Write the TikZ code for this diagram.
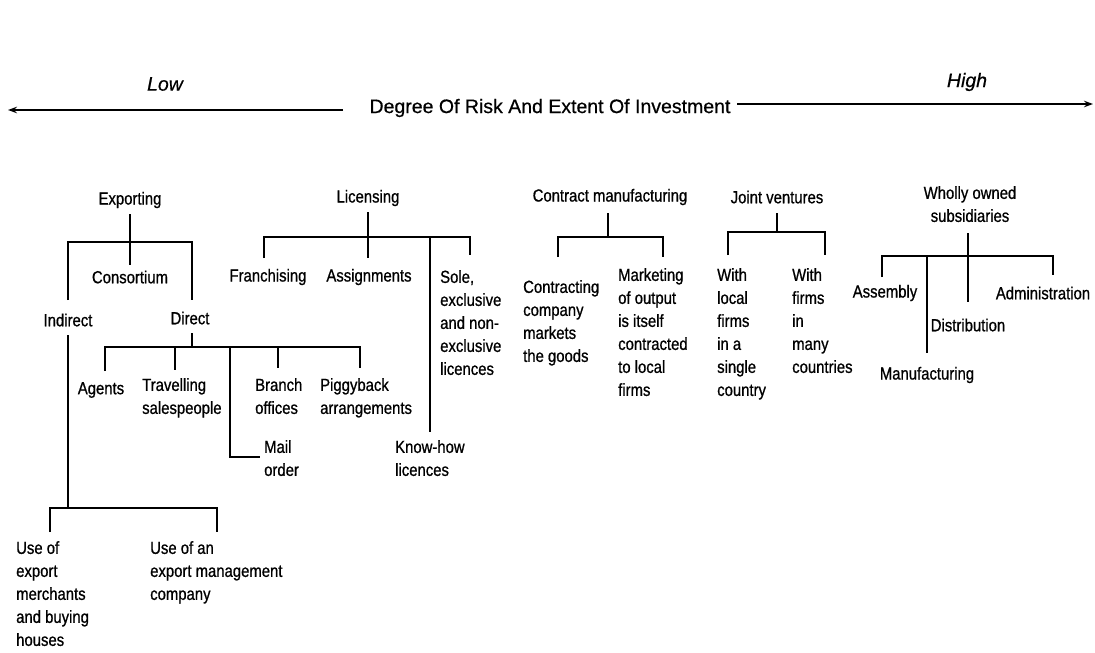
\documentclass[tikz,border=0pt]{standalone}
\usepackage{fontspec}
\setmainfont{Liberation Sans}[FakeBold=0.6]
\newfontfamily\condf{Liberation Sans}[FakeStretch=0.85,FakeBold=0.8]
\usetikzlibrary{arrows.meta}
\begin{document}
\begin{tikzpicture}[x=1pt,y=-1pt,
 lbl/.style={inner sep=0pt, font=\condf\fontsize{17.5}{23}\selectfont},
 ml/.style={lbl, align=left, anchor=north west},
 mc/.style={lbl, align=center, anchor=north},
 hdr/.style={inner sep=0pt, font=\fontsize{19.5}{23}\selectfont},
 hit/.style={inner sep=0pt, font=\fontsize{19.5}{23}\selectfont\itshape},
 wire/.style={line width=1.9pt},
 arr/.style={line width=1.9pt, -{Stealth[length=9pt,width=6.5pt]}}
]
\useasboundingbox (0,0) rectangle (1095,653);

% header
\node[hdr] (title) at (550,108) {Degree Of Risk And Extent Of Investment};
\node[hit] (low) at (165,84) {Low};
\node[hit] (high) at (967,82) {High};
\coordinate (lstart) at (343,110);
\coordinate (lend) at (8,110);
\coordinate (rstart) at (737,104);
\coordinate (rend) at (1093,104);
\draw[arr] (lstart) -- (lend);
\draw[arr] (rstart) -- (rend);

% Exporting
\node[lbl] (exp) at (130,200) {Exporting};
\node[lbl] (cons) at (130,277) {Consortium};
\node[lbl] (ind) at (68,320) {Indirect};
\node[lbl] (dir) at (190,318) {Direct};
\coordinate (exp-s) at (130,214);
\coordinate (exp-b) at (130,242);
\coordinate (cons-t) at (130,265);
\coordinate (ind-t) at (68,300);
\coordinate (dir-t) at (192,300);
\draw[wire] (exp-s) -- (cons-t);
\draw[wire] (ind-t) |- (dir-t |- exp-b) -- (dir-t);

% Direct
\node[lbl] (agents) at (101,390) {Agents};
\node[ml] (trav) at (142,378) {Travelling\\salespeople};
\node[ml] (branch) at (255,378) {Branch\\offices};
\node[ml] (piggy) at (320,378) {Piggyback\\arrangements};
\node[ml] (mail) at (264,440) {Mail\\order};
\coordinate (dir-s) at (192,333);
\coordinate (dir-b) at (192,347);
\coordinate (ag-t) at (105,371);
\coordinate (trav-t) at (175,370);
\coordinate (bra-t) at (278,368);
\coordinate (pig-t) at (360,368);
\coordinate (mail-c) at (230,457);
\coordinate (mail-e) at (260,457);
\draw[wire] (dir-s) -- (dir-b);
\draw[wire] (ag-t) |- (pig-t |- dir-b) -- (pig-t);
\draw[wire] (dir-b -| trav-t) -- (trav-t);
\draw[wire] (dir-b -| bra-t) -- (bra-t);
\draw[wire] (dir-b -| mail-c) -- (mail-c) -- (mail-e);

% Indirect
\node[ml] (use1) at (16,541) {Use of\\export\\merchants\\and buying\\houses};
\node[ml] (use2) at (150,541) {Use of an\\export management\\company};
\coordinate (ind-s) at (68,335);
\coordinate (ind-b) at (68,508);
\coordinate (use1-t) at (50,532);
\coordinate (use2-t) at (217,532);
\draw[wire] (ind-s) -- (ind-b);
\draw[wire] (use1-t) |- (use2-t |- ind-b) -- (use2-t);

% Licensing
\node[lbl] (lic) at (368,198) {Licensing};
\node[lbl] (fran) at (268,277) {Franchising};
\node[lbl] (assign) at (369,277) {Assignments};
\node[ml] (sole) at (440,270) {Sole,\\exclusive\\and non-\\exclusive\\licences};
\node[ml] (know) at (395,440) {Know-how\\licences};
\coordinate (lic-s) at (368,212);
\coordinate (lic-b) at (368,237);
\coordinate (fran-t) at (264,258);
\coordinate (assign-t) at (368,258);
\coordinate (know-t) at (430,432);
\coordinate (sole-t) at (470,255);
\draw[wire] (lic-s) -- (assign-t);
\draw[wire] (fran-t) |- (sole-t |- lic-b) -- (sole-t);
\draw[wire] (lic-b -| know-t) -- (know-t);

% Contract manufacturing
\node[lbl] (cm) at (610,197) {Contract manufacturing};
\node[ml] (cml) at (523,280) {Contracting\\company\\markets\\the goods};
\node[ml] (cmr) at (618,268) {Marketing\\of output\\is itself\\contracted\\to local\\firms};
\coordinate (cm-s) at (608,213);
\coordinate (cm-b) at (608,237);
\coordinate (cml-t) at (558,257);
\coordinate (cmr-t) at (663,257);
\draw[wire] (cm-s) -- (cm-b);
\draw[wire] (cml-t) |- (cmr-t |- cm-b) -- (cmr-t);

% Joint ventures
\node[lbl] (jv) at (777,197) {Joint ventures};
\node[ml] (jvl) at (717,268) {With\\local\\firms\\in a\\single\\country};
\node[ml] (jvr) at (792,268) {With\\firms\\in\\many\\countries};
\coordinate (jv-s) at (777,213);
\coordinate (jv-b) at (777,232);
\coordinate (jvl-t) at (728,255);
\coordinate (jvr-t) at (825,255);
\draw[wire] (jv-s) -- (jv-b);
\draw[wire] (jvl-t) |- (jvr-t |- jv-b) -- (jvr-t);

% Wholly owned subsidiaries
\node[mc] (wo) at (970,186) {Wholly owned\\subsidiaries};
\node[lbl] (asm) at (885,293) {Assembly};
\node[lbl] (adm) at (1043,293) {Administration};
\node[lbl] (dis) at (968,325) {Distribution};
\node[lbl] (man) at (927,375) {Manufacturing};
\coordinate (wo-s) at (968,233);
\coordinate (wo-b) at (968,256);
\coordinate (asm-t) at (882,277);
\coordinate (adm-t) at (1053,275);
\coordinate (man-t) at (927,353);
\coordinate (dis-t) at (968,302);
\draw[wire] (wo-s) -- (dis-t);
\draw[wire] (asm-t) |- (adm-t |- wo-b) -- (adm-t);
\draw[wire] (wo-b -| man-t) -- (man-t);
\end{tikzpicture}
\end{document}
